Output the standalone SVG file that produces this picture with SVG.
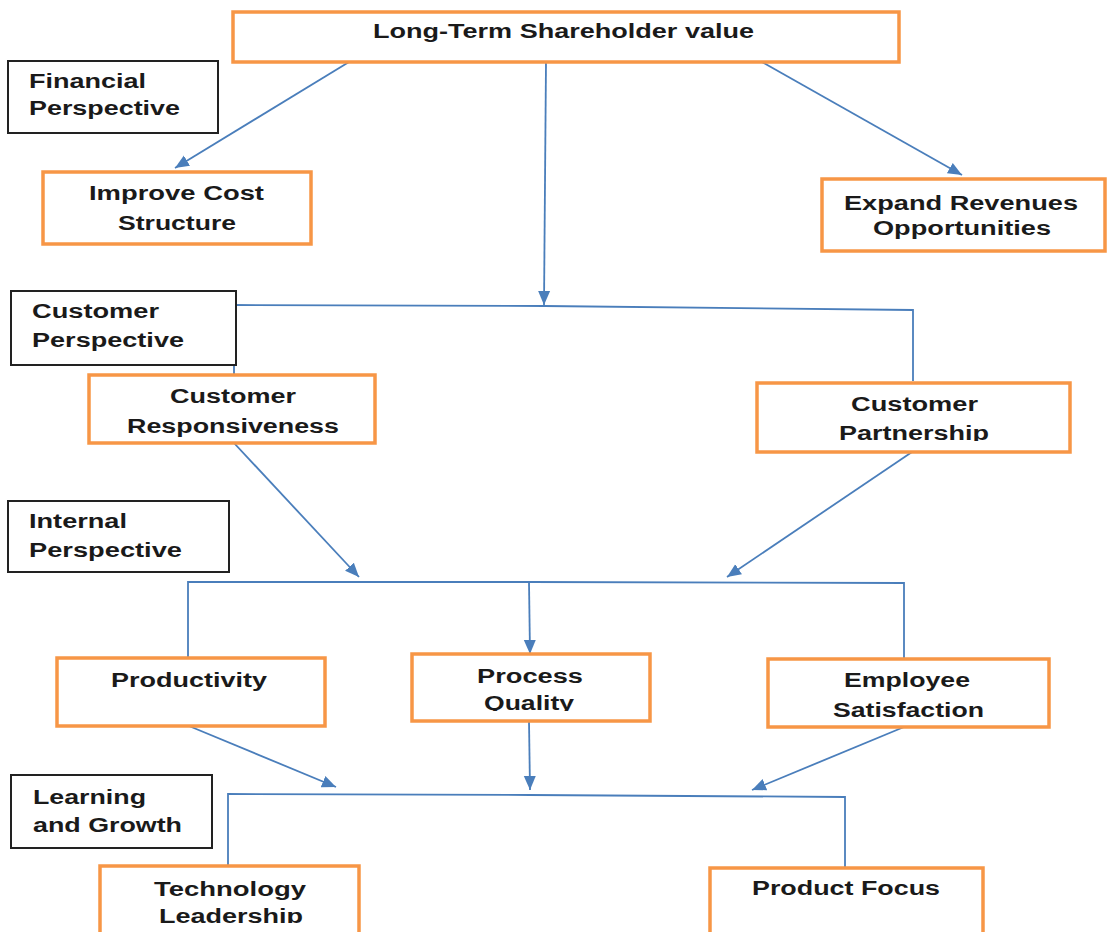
<svg xmlns="http://www.w3.org/2000/svg" width="1108" height="932" viewBox="0 0 1108 932">
<style>
.n{fill:#fff;stroke:#F79646;stroke-width:3.5}
.p{fill:#fff;stroke:#222;stroke-width:2}
.c{fill:none;stroke:#4A7EBB;stroke-width:1.8}
.a{marker-end:url(#ah)}
text{font-family:"Liberation Sans",Arial,sans-serif;font-weight:bold;font-size:20px;fill:#1a1a1a}
</style>
<defs>
<marker id="ah" markerUnits="userSpaceOnUse" markerWidth="16" markerHeight="14" refX="14" refY="7" orient="auto">
<path d="M0,1 L14,7 L0,13 Z" fill="#4A7EBB"/>
</marker>
<clipPath id="cq"><rect x="400" y="650" width="260" height="61"/></clipPath>
<clipPath id="cp"><rect x="750" y="380" width="330" height="61"/></clipPath>
<clipPath id="cl"><rect x="95" y="862" width="270" height="61"/></clipPath>
</defs>
<g id="connectors">
<line class="c a" x1="349" y1="62" x2="175" y2="168"/>
<line class="c a" x1="762" y1="62" x2="962" y2="175"/>
<line class="c a" x1="546" y1="62" x2="544" y2="305"/>
<polyline class="c" points="234,375 234,305 544,306 913,310 913,381"/>
<line class="c a" x1="234" y1="443" x2="359" y2="577"/>
<line class="c a" x1="912" y1="452" x2="727" y2="577"/>
<polyline class="c" points="188,658 188,582 529,582 904,583 904,659"/>
<line class="c a" x1="529" y1="582" x2="530" y2="654"/>
<line class="c a" x1="189" y1="726" x2="336" y2="787"/>
<line class="c a" x1="529" y1="721" x2="530" y2="790"/>
<line class="c a" x1="904" y1="727" x2="752" y2="790"/>
<polyline class="c" points="228,866 228,794 530,795 845,797 845,868"/>
</g>
<g id="n-top"><rect class="n" x="233" y="12" width="666" height="50"/><text x="373" y="38" textLength="381" lengthAdjust="spacingAndGlyphs">Long-Term Shareholder value</text></g>
<g id="p-financial"><rect class="p" x="8" y="61" width="210" height="72"/><text x="29" y="88" textLength="117" lengthAdjust="spacingAndGlyphs">Financial</text><text x="29" y="115" textLength="151" lengthAdjust="spacingAndGlyphs">Perspective</text></g>
<g id="n-cost"><rect class="n" x="43" y="172" width="268" height="72"/><text x="89" y="200" textLength="175" lengthAdjust="spacingAndGlyphs">Improve Cost</text><text x="118" y="230" textLength="118" lengthAdjust="spacingAndGlyphs">Structure</text></g>
<g id="n-revenue"><rect class="n" x="822" y="179" width="283" height="72"/><text x="844" y="210" textLength="234" lengthAdjust="spacingAndGlyphs">Expand Revenues</text><text x="873" y="235" textLength="178" lengthAdjust="spacingAndGlyphs">Opportunities</text></g>
<g id="p-customer"><rect class="p" x="11" y="291" width="225" height="74"/><text x="32" y="318" textLength="127" lengthAdjust="spacingAndGlyphs">Customer</text><text x="32" y="347" textLength="152" lengthAdjust="spacingAndGlyphs">Perspective</text></g>
<g id="n-responsiveness"><rect class="n" x="89" y="375" width="286" height="68"/><text x="170" y="403" textLength="126" lengthAdjust="spacingAndGlyphs">Customer</text><text x="127" y="433" textLength="212" lengthAdjust="spacingAndGlyphs">Responsiveness</text></g>
<g id="n-partnership"><rect class="n" x="757" y="383" width="313" height="69"/><text x="851" y="411" textLength="127" lengthAdjust="spacingAndGlyphs">Customer</text><text x="839" y="440" textLength="150" lengthAdjust="spacingAndGlyphs" clip-path="url(#cp)">Partnership</text></g>
<g id="p-internal"><rect class="p" x="8" y="501" width="221" height="71"/><text x="29" y="528" textLength="98" lengthAdjust="spacingAndGlyphs">Internal</text><text x="29" y="557" textLength="153" lengthAdjust="spacingAndGlyphs">Perspective</text></g>
<g id="n-productivity"><rect class="n" x="57" y="658" width="268" height="68"/><text x="111" y="687" textLength="156" lengthAdjust="spacingAndGlyphs">Productivity</text></g>
<g id="n-quality"><rect class="n" x="412" y="654" width="238" height="67"/><text x="477" y="683" textLength="106" lengthAdjust="spacingAndGlyphs">Process</text><text x="484" y="710" textLength="90" lengthAdjust="spacingAndGlyphs" clip-path="url(#cq)">Quality</text></g>
<g id="n-employee"><rect class="n" x="768" y="659" width="281" height="68"/><text x="844" y="687" textLength="126" lengthAdjust="spacingAndGlyphs">Employee</text><text x="833" y="717" textLength="151" lengthAdjust="spacingAndGlyphs">Satisfaction</text></g>
<g id="p-learning"><rect class="p" x="11" y="775" width="201" height="73"/><text x="33" y="804" textLength="113" lengthAdjust="spacingAndGlyphs">Learning</text><text x="33" y="832" textLength="149" lengthAdjust="spacingAndGlyphs">and Growth</text></g>
<g id="n-technology"><rect class="n" x="100" y="866" width="259" height="80"/><text x="154" y="896" textLength="152" lengthAdjust="spacingAndGlyphs">Technology</text><text x="159" y="923" textLength="144" lengthAdjust="spacingAndGlyphs" clip-path="url(#cl)">Leadership</text></g>
<g id="n-product"><rect class="n" x="710" y="868" width="273" height="80"/><text x="752" y="895" textLength="188" lengthAdjust="spacingAndGlyphs">Product Focus</text></g>
</svg>
